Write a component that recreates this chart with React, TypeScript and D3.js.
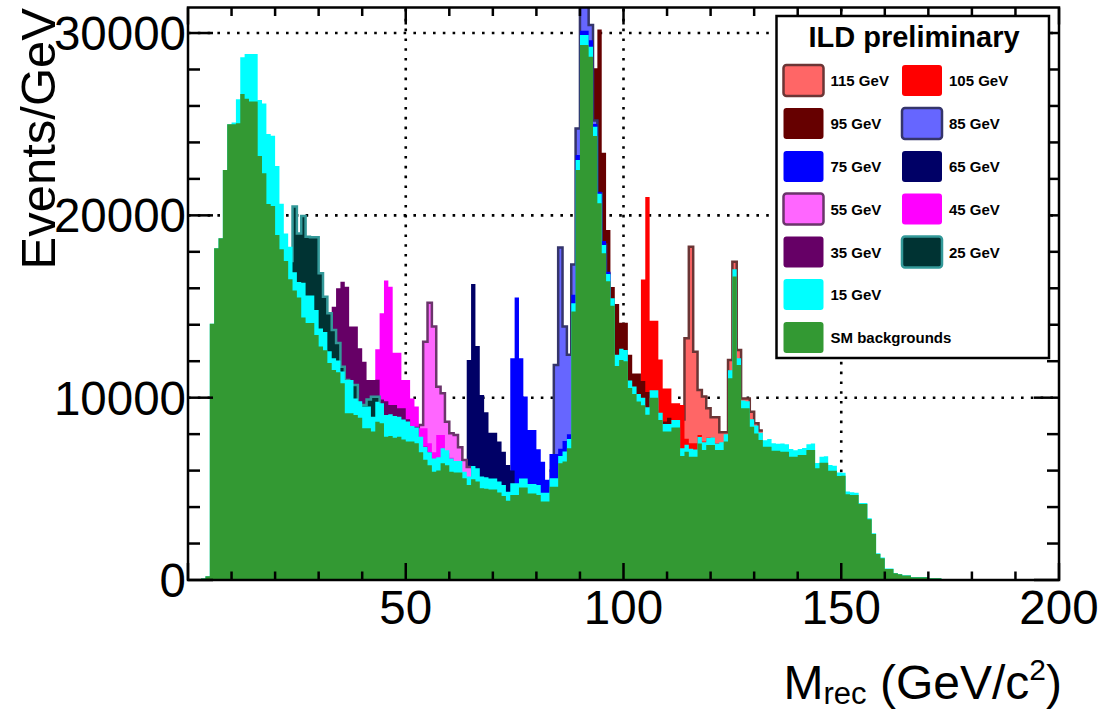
import React from 'react';
import * as d3 from 'd3';

const WIDTH = 1105;
const HEIGHT = 711;
const FRAME = { left: 188, right: 1059, top: 7.5, bottom: 580 };
const X_MAX = 200;
const Y_MAX = 31400;
const FONT = "'Liberation Sans', Arial, Helvetica, sans-serif";

const xTickLabels = [50, 100, 150, 200];
const yTickLabels = [0, 10000, 20000, 30000];
const gridX = [50, 100, 150];
const gridY = [10000, 20000, 30000];

// SM backgrounds, events per 1 GeV bin, bins 0..199
const smBackground = [
  0, 0, 50, 80, 200, 14060, 18200, 18740, 22490, 24990,
  24990, 25050, 26660, 26400, 26240, 26240, 23260, 22310, 20620, 20510,
  18920, 18140, 17500, 16500, 15880, 15500, 14400, 14100, 14100, 13440,
  12800, 12600, 11900, 11520, 11400, 10790, 9140, 9140, 9050, 8900,
  8320, 8320, 8140, 8680, 8600, 7860, 7900, 7800, 7860, 7700,
  7600, 7590, 7500, 7000, 6600, 6300, 5940, 6000, 6400, 6300,
  5940, 5900, 5900, 5580, 5210, 5520, 5400, 5030, 5000, 4970,
  4970, 4800, 4610, 4350, 4660, 4660, 5080, 5080, 4750, 4750,
  4660, 4300, 4300, 5120, 5120, 6400, 6500, 7230, 14730, 22490,
  29340, 29340, 28700, 24350, 20670, 17920, 16380, 15040, 11740, 12060,
  12000, 10530, 10200, 9790, 9590, 9070, 10000, 10000, 8770, 8140,
  8140, 8360, 8360, 6800, 7040, 6760, 6760, 7490, 7130, 7400,
  7400, 7130, 7130, 7590, 11060, 16640, 11790, 9420, 9420, 8410,
  8040, 7680, 7310, 7310, 7090, 7090, 7040, 7040, 6760, 6760,
  6860, 6860, 7130, 7130, 6125, 6435, 6435, 5997, 5997, 5700,
  5720, 4700, 4660, 4660, 4170, 4170, 3330, 2520, 1430, 1190,
  600, 600, 365, 310, 240, 240, 150, 150, 150, 150,
  100, 100, 100, 60, 50, 50, 40, 40, 40, 30,
  30, 30, 20, 30, 30, 20, 30, 20, 20, 30,
  20, 20, 30, 20, 20, 20, 20, 20, 20, 20,
];

// 15 GeV signal on top of the SM backgrounds, bins 0..199
const signal15Excess = [
  0, 0, 0, 0, 0, 0, 0, 0, 0, 0,
  100, 1320, 2010, 2450, 2610, 2610, 3070, 3830, 3840, 3860,
  3790, 2500, 1500, 1780, 1000, 850, 1900, 1500, 1500, 1370,
  1000, 1000, 640, 640, 640, 650, 1830, 1830, 900, 900,
  1190, 1190, 820, 1100, 1100, 1190, 1190, 1190, 1100, 1100,
  1100, 860, 860, 860, 700, 700, 730, 730, 820, 820,
  730, 630, 630, 360, 460, 730, 730, 640, 640, 600,
  600, 600, 600, 490, 640, 640, 490, 490, 510, 510,
  550, 490, 490, 460, 460, 400, 550, 500, 450, 550,
  550, 550, 550, 510, 510, 450, 410, 410, 620, 620,
  620, 410, 410, 410, 410, 410, 410, 410, 410, 410,
  410, 410, 410, 420, 380, 440, 400, 360, 430, 390,
  410, 350, 420, 400, 450, 400, 370, 420, 380, 400,
  430, 390, 350, 420, 410, 380, 440, 400, 420, 360,
  330, 380, 310, 360, 290, 330, 350, 310, 270, 200,
  160, 150, 150, 130, 60, 60, 50, 50, 40, 40,
  30, 30, 20, 20, 20, 20, 10, 10, 10, 10,
  0, 0, 0, 0, 0, 0, 0, 0, 0, 0,
  0, 0, 0, 0, 0, 0, 0, 0, 0, 0,
  0, 0, 0, 0, 0, 0, 0, 0, 0, 0,
];

// Signal + background totals around each mass point (first bin given separately)
const start115 = 113;
const total115 = [8800, 13260, 18280, 12520, 10420, 10060, 9420, 8920, 8920, 8100, 8100, 12070, 17460, 12620, 9960, 9960, 9230, 8600, 8200];
const start105 = 102;
const total105 = [10300, 10500, 16480, 21000, 14220, 14220, 12100, 10510, 10510, 9690, 9690, 9600, 7750, 7500, 7500, 7950, 7600, 7800, 7800, 7500, 7500];
const start95 = 92;
const total95 = [29000, 28070, 30200, 23440, 19200, 16070, 15140, 14110, 14110, 12360, 11330, 11330, 10920, 10310, 10310, 9300, 8700, 8700, 8900];
const start85 = 83;
const total85 = [6000, 11790, 18230, 13900, 12360, 17300, 24770, 32000, 32000, 30440, 25200, 21200, 18400, 16800];
const start75 = 72;
const total75 = [5600, 6000, 12160, 15490, 12160, 10060, 8230, 8230, 7170, 6490, 5500, 6910, 6910, 7200, 7630, 8000, 15650, 23310, 30130, 30130, 29600, 25010, 21300, 18600, 16900];
const start65 = 62;
const total65 = [6300, 6500, 12070, 16240, 12830, 10150, 9200, 8080, 8080, 7590, 7040, 6310, 6000];
const start55 = 52;
const total55 = [7800, 8500, 13070, 15210, 13900, 10600, 10240, 8680, 8050, 7950, 7280, 6580, 6200];
const start45 = 42;
const total45 = [9500, 12650, 14630, 16420, 16090, 12470, 12470, 10970, 10970, 9960, 9510, 8320, 8320, 7500, 7000, 7950, 7950, 6950, 6700];
const start35 = 31;
const total35 = [11000, 12500, 14990, 16000, 16360, 16090, 13900, 13900, 12710, 11970, 10970, 10970, 10990, 9900, 9800, 9600, 9600, 9420, 9420, 8810, 8400, 8400, 7310, 7310, 7000];
const start25 = 23;
const total25 = [17500, 20480, 19000, 19970, 18830, 18800, 18800, 16820, 15540, 14630, 13710, 13000, 11700, 10970, 10700, 10700, 9600, 9600, 9900, 10050, 10050, 9140];

type Sample = { label: string; fill: string; stroke?: string; start: number; values: number[] };

const signalSamples: Sample[] = [
  { label: '115 GeV', fill: '#ff6666', stroke: '#6b3535', start: start115, values: total115 },
  { label: '105 GeV', fill: '#ff0000', start: start105, values: total105 },
  { label: '95 GeV', fill: '#660000', start: start95, values: total95 },
  { label: '85 GeV', fill: '#6666ff', stroke: '#35356b', start: start85, values: total85 },
  { label: '75 GeV', fill: '#0000ff', start: start75, values: total75 },
  { label: '65 GeV', fill: '#000066', start: start65, values: total65 },
  { label: '55 GeV', fill: '#ff66ff', stroke: '#6b356b', start: start55, values: total55 },
  { label: '45 GeV', fill: '#ff00ff', start: start45, values: total45 },
  { label: '35 GeV', fill: '#660066', start: start35, values: total35 },
  { label: '25 GeV', fill: '#003333', stroke: '#339999', start: start25, values: total25 },
];

const COLOR_15 = '#00ffff';
const COLOR_SM = '#339933';

type Pt = [number, number];

function stepPoints(start: number, values: number[]): Pt[] {
  const pts: Pt[] = values.map((v, i) => [start + i, v] as Pt);
  pts.push([start + values.length, values[values.length - 1]]);
  return pts;
}

export default function App() {
  const x = d3.scaleLinear().domain([0, X_MAX]).range([FRAME.left, FRAME.right]);
  const y = d3.scaleLinear().domain([0, Y_MAX]).range([FRAME.bottom, FRAME.top]);

  const area = d3
    .area<Pt>()
    .x((d) => x(d[0]))
    .y0(y(0))
    .y1((d) => y(d[1]))
    .curve(d3.curveStepAfter);
  const line = d3
    .line<Pt>()
    .x((d) => x(d[0]))
    .y((d) => y(d[1]))
    .curve(d3.curveStepAfter);

  const total15 = smBackground.map((v, i) => v + signal15Excess[i]);

  const xMinor = d3.range(0, X_MAX + 1, 10);
  const yMinor = d3.range(0, Y_MAX, 2000);

  // legend layout: two columns of swatches
  const legendItems: { label: string; fill: string; stroke?: string }[][] = [
    [signalSamples[0], signalSamples[1]],
    [signalSamples[2], signalSamples[3]],
    [signalSamples[4], signalSamples[5]],
    [signalSamples[6], signalSamples[7]],
    [signalSamples[8], signalSamples[9]],
    [{ label: '15 GeV', fill: COLOR_15 }],
    [{ label: 'SM backgrounds', fill: COLOR_SM }],
  ];
  const legendColX = [783.5, 902];
  const legendRowY = [65, 108, 151, 193.5, 236.5, 279, 322];

  return (
    <svg
      width={WIDTH}
      height={HEIGHT}
      style={{ position: 'absolute', left: 0, top: 0, background: '#fff' }}
      fontFamily={FONT}
    >
      <defs>
        <clipPath id="frameClip">
          <rect x={FRAME.left} y={FRAME.top} width={FRAME.right - FRAME.left} height={FRAME.bottom - FRAME.top} />
        </clipPath>
      </defs>

      {/* dotted grid */}
      <g stroke="#000" strokeWidth={2.6} strokeDasharray="2.6 7.2">
        {gridX.map((g) => (
          <line key={`gx${g}`} x1={x(g)} x2={x(g)} y1={FRAME.bottom} y2={FRAME.top} />
        ))}
        {gridY.map((g) => (
          <line key={`gy${g}`} x1={FRAME.left} x2={FRAME.right} y1={y(g)} y2={y(g)} />
        ))}
      </g>

      {/* histograms, heaviest mass first, SM backgrounds last */}
      <g clipPath="url(#frameClip)">
        {signalSamples.map((s) => {
          const pts = stepPoints(s.start, s.values);
          return (
            <g key={s.label}>
              <path d={area(pts) || ''} fill={s.fill} />
              {s.stroke && <path d={line(pts) || ''} fill="none" stroke={s.stroke} strokeWidth={2.5} />}
            </g>
          );
        })}
        <path d={area(stepPoints(0, total15)) || ''} fill={COLOR_15} />
        <path d={area(stepPoints(0, smBackground)) || ''} fill={COLOR_SM} />
      </g>

      {/* frame and ticks */}
      <g stroke="#000" strokeWidth={2.5}>
        <rect
          x={FRAME.left}
          y={FRAME.top}
          width={FRAME.right - FRAME.left}
          height={FRAME.bottom - FRAME.top}
          fill="none"
        />
        {xMinor.map((t) => {
          const len = t % 50 === 0 ? 17 : 8.5;
          return (
            <g key={`xt${t}`}>
              <line x1={x(t)} x2={x(t)} y1={FRAME.bottom} y2={FRAME.bottom - len} />
              <line x1={x(t)} x2={x(t)} y1={FRAME.top} y2={FRAME.top + len} />
            </g>
          );
        })}
        {yMinor.map((t) => {
          const len = t % 10000 === 0 ? 25 : 12;
          return (
            <g key={`yt${t}`}>
              <line x1={FRAME.left} x2={FRAME.left + len} y1={y(t)} y2={y(t)} />
              <line x1={FRAME.right} x2={FRAME.right - len} y1={y(t)} y2={y(t)} />
            </g>
          );
        })}
      </g>

      {/* tick labels */}
      <g fontSize={47.5} fill="#000">
        {xTickLabels.map((t) => (
          <text key={`xl${t}`} x={x(t)} y={624} textAnchor="middle">
            {t}
          </text>
        ))}
        {yTickLabels.map((t) => (
          <text key={`yl${t}`} x={FRAME.left - 2} y={y(t) + 17} textAnchor="end">
            {t}
          </text>
        ))}
      </g>

      {/* axis titles */}
      <text transform="translate(55,8) rotate(-90)" textAnchor="end" fontSize={49} fill="#000">
        Events/GeV
      </text>
      <text x={1062} y={699} textAnchor="end" fontSize={48} fill="#000">
        M<tspan fontSize={31} dy={5}>rec</tspan>
        <tspan dy={-5}> (GeV/c</tspan>
        <tspan fontSize={30} dy={-19}>2</tspan>
        <tspan dy={19}>)</tspan>
      </text>

      {/* legend */}
      <g>
        <rect x={776.5} y={16} width={272.5} height={342} fill="#fff" stroke="#000" strokeWidth={2.5} />
        <text x={914} y={47} textAnchor="middle" fontSize={29} fontWeight="bold" fill="#000">
          ILD preliminary
        </text>
        {legendItems.map((row, r) =>
          row.map((item, c) => (
            <g key={item.label}>
              <rect
                x={legendColX[c]}
                y={legendRowY[r]}
                width={40}
                height={31}
                rx={3}
                fill={item.fill}
                stroke={item.stroke || 'none'}
                strokeWidth={item.stroke ? 2.5 : 0}
              />
              <text
                x={legendColX[c] + 47}
                y={legendRowY[r] + 21}
                fontSize={15}
                fontWeight="bold"
                fill="#000"
              >
                {item.label}
              </text>
            </g>
          ))
        )}
      </g>
    </svg>
  );
}
